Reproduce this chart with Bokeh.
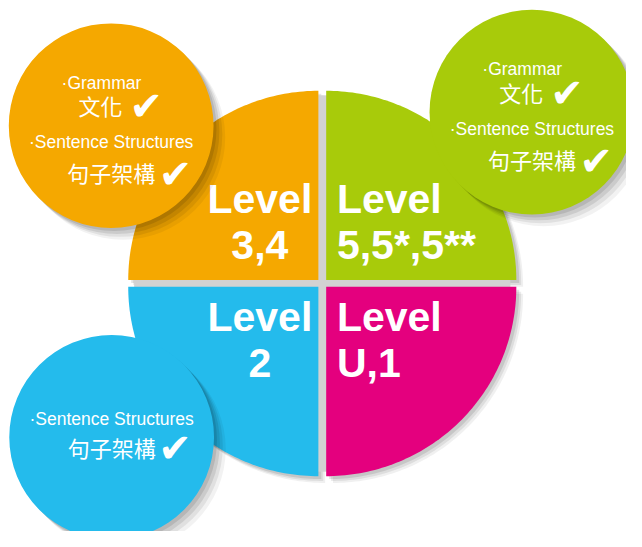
import numpy as np
from bokeh.plotting import figure
from bokeh.models import Range1d, ColumnDataSource
from bokeh.core.properties import value
from bokeh.embed import file_html
from bokeh.resources import INLINE

# ---------------- data ----------------
level_word = "Level"
level_numbers = ["3,4", "5,5*,5**", "2", "U,1"]
quadrant_colors = ["#F5A800", "#A8CB0A", "#24BBEC", "#E4007E"]

bubble_colors = ["#F5A800", "#A8CB0A", "#24BBEC"]
bubble_en = [["·Grammar", "·Sentence Structures"],
             ["·Grammar", "·Sentence Structures"],
             ["·Sentence Structures"]]
bubble_zh = [["文化", "句子架構"],
             ["文化", "句子架構"],
             ["句子架構"]]
check_mark = "✔"

# ---------------- layout ----------------
W, H = 626, 531
p = figure(width=W, height=H, output_backend="svg", toolbar_location=None,
           x_range=Range1d(0, 642), y_range=Range1d(547, 0),
           min_border=0, outline_line_color=None)
p.xaxis.visible = False
p.yaxis.visible = False
p.grid.visible = False
p.background_fill_color = "white"
p.border_fill_color = "white"

R = 195
corners = [(326, 288), (334, 288), (326, 295), (334, 295)]
angle_spans = [(180, 270), (270, 360), (90, 180), (0, 90)]

def quadrant(cx, cy, a0, a1, r, dx=0, dy=0):
    t = np.radians(np.linspace(a0, a1, 80))
    xs = np.concatenate([[cx], cx + r * np.cos(t)]) + dx
    ys = np.concatenate([[cy], cy + r * np.sin(t)]) + dy
    return list(xs), list(ys)

# shadows of the big circle
for off, alpha in [(7, 0.06), (5, 0.08), (3, 0.10)]:
    xs_l, ys_l = [], []
    for (cx, cy), (a0, a1) in zip(corners, angle_spans):
        xs, ys = quadrant(cx, cy, a0, a1, R, off, off)
        xs_l.append(xs); ys_l.append(ys)
    p.patches(xs_l, ys_l, fill_color="black", fill_alpha=alpha, line_color=None)
# gap fill
p.circle(x=[330], y=[291.5], radius=R - 2, fill_color="#d2d2d2", line_color=None)

xs_l, ys_l = [], []
for (cx, cy), (a0, a1) in zip(corners, angle_spans):
    xs, ys = quadrant(cx, cy, a0, a1, R)
    xs_l.append(xs); ys_l.append(ys)
p.patches(xs_l, ys_l, fill_color=quadrant_colors, line_color=None)

# level texts
lvl_x = [266, 345, 266, 345]
lvl_align = ["center", "left", "center", "left"]
lvl_y1 = [204, 204, 326, 326]
lvl_y2 = [252, 252, 373, 373]
src = ColumnDataSource(dict(x=lvl_x + lvl_x, y=lvl_y1 + lvl_y2,
                            t=[level_word] * 4 + level_numbers,
                            a=lvl_align + lvl_align))
p.text(x="x", y="y", text="t", text_align="a", source=src,
       text_color="white", text_font=value("Liberation Sans"),
       text_font_style="bold", text_font_size="41px",
       text_baseline="alphabetic")

# small bubbles
bub_centers = [(113.5, 129), (545, 115), (114, 450)]
BR = 105
for off, alpha in [(12, 0.05), (9, 0.07), (6, 0.09), (3, 0.10)]:
    p.circle(x=[c[0] + off for c in bub_centers], y=[c[1] + off for c in bub_centers],
             radius=BR, fill_color="black", fill_alpha=alpha, line_color=None)
p.circle(x=[c[0] for c in bub_centers], y=[c[1] for c in bub_centers],
         radius=BR, fill_color=bubble_colors, line_color=None)

en_x, en_y, en_t = [], [], []
zh_x, zh_y, zh_t = [], [], []
ck_x, ck_y = [], []
for (cx, cy), ens, zhs in zip(bub_centers, bubble_en, bubble_zh):
    if len(ens) == 2:
        en_offs = [(-10, -44), (0, 17)]
        zh_offs = [(-11, -21), (0, 48)]
        ck_offs = [(36, -20), (66, 50)]
    else:
        en_offs = [(0, -19)]
        zh_offs = [(0, 10)]
        ck_offs = [(65, 11)]
    for t, (dx, dy) in zip(ens, en_offs):
        en_x.append(cx + dx); en_y.append(cy + dy); en_t.append(t)
    for t, (dx, dy) in zip(zhs, zh_offs):
        zh_x.append(cx + dx); zh_y.append(cy + dy); zh_t.append(t)
    for dx, dy in ck_offs:
        ck_x.append(cx + dx); ck_y.append(cy + dy)

p.text(x=en_x, y=en_y, text=en_t, text_color="white",
       text_font=value("Liberation Sans"), text_font_size="17.5px",
       text_align="center", text_baseline="alphabetic")
p.text(x=zh_x, y=zh_y, text=zh_t, text_color="white",
       text_font=value("Noto Sans CJK TC"), text_font_size="22px",
       text_font_style="normal",
       text_align="center", text_baseline="alphabetic")
p.text(x=ck_x, y=ck_y, text=[check_mark] * len(ck_x), text_color="white",
       text_font=value("DejaVu Sans"), text_font_size="40px",
       text_align="center", text_baseline="alphabetic")

open("out.html", "w").write(file_html(p, INLINE))
